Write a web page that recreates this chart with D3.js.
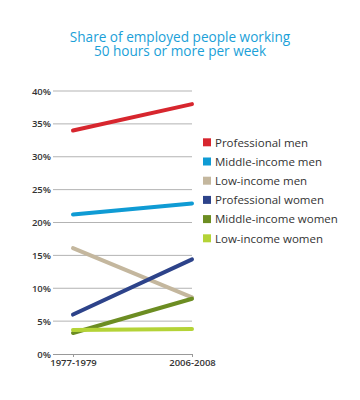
<!DOCTYPE html>
<html>
<head>
<meta charset="utf-8">
<script src="https://cdn.jsdelivr.net/npm/d3@7"></script>
<style>
  body { margin: 0; background: #fff; }
  text { font-family: "Open Sans", sans-serif; }
</style>
</head>
<body>
<svg id="chart"></svg>
<script>
var periods = ['1977-1979', '2006-2008'];
var groups = ['Professional men', 'Middle-income men', 'Low-income men',
  'Professional women', 'Middle-income women', 'Low-income women'];
var colors = ['#d7262e', '#0f9bd4', '#c4b79e', '#2d438a', '#6c8d22', '#b4d337'];
var startValues = [34, 21.2, 16.1, 6.0, 3.2, 3.65];
var endValues = [38, 22.9, 8.6, 14.4, 8.4, 3.8];
var yTicks = [0, 5, 10, 15, 20, 25, 30, 35, 40];
var title = ['Share of employed people working', '50 hours or more per week'];

var width = 360, height = 400;
var svg = d3.select('#chart').attr('width', width).attr('height', height);

var x = d3.scalePoint().domain(periods).range([73, 192]);
var y = d3.scaleLinear().domain([0, 40]).range([354, 91]);

svg.append('g')
  .selectAll('text')
  .data(title)
  .enter()
  .append('text')
  .attr('x', 180)
  .attr('y', function (d, i) { return 41.5 + i * 14; })
  .attr('text-anchor', 'middle')
  .attr('fill', '#1b9fd8')
  .style('font-size', '13.6px')
  .text(function (d) { return d; });

// gridlines
svg.append('g')
  .selectAll('line')
  .data(yTicks.filter(function (d) { return d > 0; }))
  .enter()
  .append('line')
  .attr('x1', 53).attr('x2', 192)
  .attr('y1', function (d) { return y(d); })
  .attr('y2', function (d) { return y(d); })
  .attr('stroke', '#b3b3b3')
  .attr('stroke-width', 1);

var yAxis = svg.append('g')
  .attr('transform', 'translate(53,0)')
  .call(d3.axisLeft(y).tickValues(yTicks).tickSize(0).tickPadding(2)
    .tickFormat(function (d) { return d + '%'; }));
yAxis.select('.domain').remove();
yAxis.selectAll('text')
  .attr('fill', '#333')
  .style('font-size', '9.5px')
  .style('font-weight', 600)
  .style('font-family', '"Open Sans", sans-serif');

var xAxis = svg.append('g')
  .attr('transform', 'translate(0,354)')
  .call(d3.axisBottom(x).tickSize(3).tickPadding(2).tickSizeOuter(0));
xAxis.select('.domain').attr('d', 'M53,0.5H192').attr('stroke', '#999');
xAxis.selectAll('.tick line').attr('stroke', '#999');
xAxis.selectAll('text')
  .attr('fill', '#333')
  .style('font-size', '9.5px')
  .style('font-weight', 600)
  .style('font-family', '"Open Sans", sans-serif');

var line = d3.line()
  .x(function (d) { return x(d[0]); })
  .y(function (d) { return y(d[1]); });

svg.append('g')
  .selectAll('path')
  .data(groups)
  .enter()
  .append('path')
  .attr('d', function (d, i) {
    return line([[periods[0], startValues[i]], [periods[1], endValues[i]]]);
  })
  .attr('fill', 'none')
  .attr('stroke', function (d, i) { return colors[i]; })
  .attr('stroke-width', 4)
  .attr('stroke-linecap', 'round');

var legend = svg.append('g')
  .selectAll('g')
  .data(groups)
  .enter()
  .append('g')
  .attr('transform', function (d, i) { return 'translate(203,' + (142.3 + i * 19.2) + ')'; });

legend.append('rect')
  .attr('x', 0).attr('y', -4)
  .attr('width', 8).attr('height', 8)
  .attr('fill', function (d, i) { return colors[i]; });

legend.append('text')
  .attr('x', 12)
  .attr('y', 4.2)
  .attr('fill', '#333')
  .style('font-size', '11.5px')
  .text(function (d) { return d; });
</script>
</body>
</html>
